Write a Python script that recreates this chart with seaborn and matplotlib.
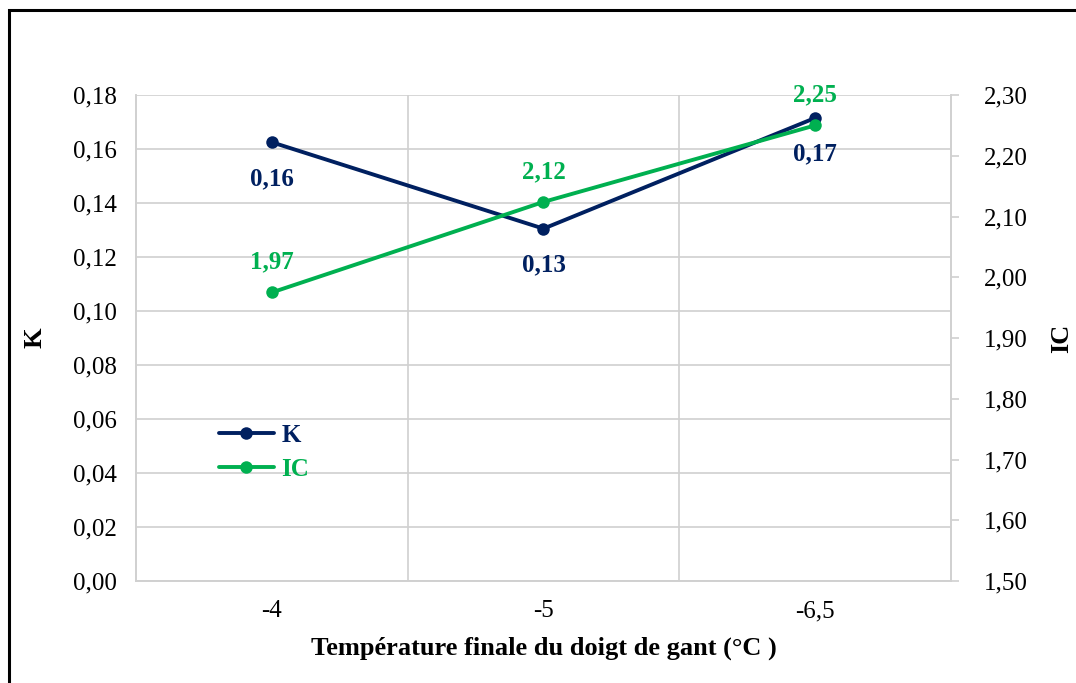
import matplotlib
matplotlib.use("Agg")
import matplotlib.pyplot as plt
import seaborn as sns
import pandas as pd
import numpy as np
from matplotlib.ticker import FixedLocator, FuncFormatter
from matplotlib.lines import Line2D
from matplotlib.patches import Rectangle

categories = ["-4", "-5", "-6,5"]
k_values = [0.1625, 0.1305, 0.1715]
ic_values = [1.975, 2.124, 2.250]
k_labels = ["0,16", "0,13", "0,17"]
ic_labels = ["1,97", "2,12", "2,25"]

K_COLOR = "#002060"
IC_COLOR = "#00B050"
GRID = "#D0D0D0"
LW = 2.8
MS = 9

sns.set_theme(style="white")
plt.rcParams["font.family"] = ["Liberation Serif", "DejaVu Serif"]
plt.rcParams["text.color"] = "black"
plt.rcParams["axes.labelcolor"] = "black"

df = pd.DataFrame({"pos": np.arange(len(categories)), "K": k_values, "IC": ic_values})

fig = plt.figure(figsize=(10.76, 6.83), dpi=100)
ax = fig.add_axes([0.1264, 0.1493, 0.7574, 0.7116])
ax2 = ax.twinx()

sns.lineplot(data=df, x="pos", y="K", ax=ax, color=K_COLOR, marker="o",
             markersize=MS, linewidth=LW, markeredgewidth=0, zorder=3)
sns.lineplot(data=df, x="pos", y="IC", ax=ax2, color=IC_COLOR, marker="o",
             markersize=MS, linewidth=LW, markeredgewidth=0, zorder=3)

ax.set_xlim(-0.5, len(categories) - 0.5)
ax.set_ylim(0, 0.18)
ax2.set_ylim(1.5, 2.3)

comma = lambda fmt: FuncFormatter(lambda v, p: (fmt % v).replace(".", ","))
ax.yaxis.set_major_locator(FixedLocator(np.arange(0, 0.1801, 0.02)))
ax.yaxis.set_major_formatter(comma("%.2f"))
ax2.yaxis.set_major_locator(FixedLocator(np.arange(1.5, 2.3001, 0.1)))
ax2.yaxis.set_major_formatter(comma("%.2f"))

ax.set_xticks(df["pos"])
ax.set_xticklabels(categories)
ax.set_xticks(np.arange(0.5, len(categories) - 0.5, 1), minor=True)

ax.grid(axis="y", which="major", color=GRID, linewidth=1.2)
ax.grid(axis="x", which="minor", color=GRID, linewidth=1.2)
ax.grid(axis="x", which="major", visible=False)
ax.set_axisbelow(True)
ax2.grid(False)

for a in (ax, ax2):
    for s in a.spines.values():
        s.set_color(GRID)
        s.set_linewidth(1.2)
ax.spines["top"].set_visible(False)
ax2.spines["top"].set_visible(False)

ax.tick_params(axis="y", which="both", length=0, labelsize=18, pad=14, labelcolor="black")
ax.tick_params(axis="x", which="both", length=0, labelsize=18, pad=14, labelcolor="black")
ax2.tick_params(axis="y", length=6, width=1.2, color=GRID, labelsize=18, pad=18,
                labelcolor="black", right=True)

ax.set_xlabel("Température finale du doigt de gant (°C )", fontsize=19,
              fontweight="bold", labelpad=10, color="black")
ax.set_ylabel("K", fontsize=19, fontweight="bold", labelpad=19, color="black")
ax2.set_ylabel("IC", fontsize=19, fontweight="bold", labelpad=16, color="black")

for x, y, t in zip(df["pos"], k_values, k_labels):
    ax.annotate(t, (x, y), xytext=(0, -26), textcoords="offset points",
                ha="center", va="center", fontsize=18, fontweight="bold", color=K_COLOR)
for x, y, t in zip(df["pos"], ic_values, ic_labels):
    ax2.annotate(t, (x, y), xytext=(0, 22), textcoords="offset points",
                 ha="center", va="center", fontsize=18, fontweight="bold", color=IC_COLOR)

handles = [Line2D([0], [0], color=K_COLOR, marker="o", markersize=MS, linewidth=LW, markeredgewidth=0),
           Line2D([0], [0], color=IC_COLOR, marker="o", markersize=MS, linewidth=LW, markeredgewidth=0)]
leg = ax.legend(handles, ["K", "IC"], loc="upper left", bbox_to_anchor=(0.074, 0.37),
                frameon=False, handlelength=2.2, handletextpad=0.3,
                labelspacing=0.45, prop={"family": "Liberation Serif", "weight": "bold", "size": 18})
for txt, c in zip(leg.get_texts(), [K_COLOR, IC_COLOR]):
    txt.set_color(c)

fig.patches.append(Rectangle((9 / 1076, -0.01), 1.1, 1 - 10 / 683 + 0.01,
                             transform=fig.transFigure, fill=False,
                             edgecolor="black", linewidth=2.2))

fig.savefig("out.png", dpi=100)
